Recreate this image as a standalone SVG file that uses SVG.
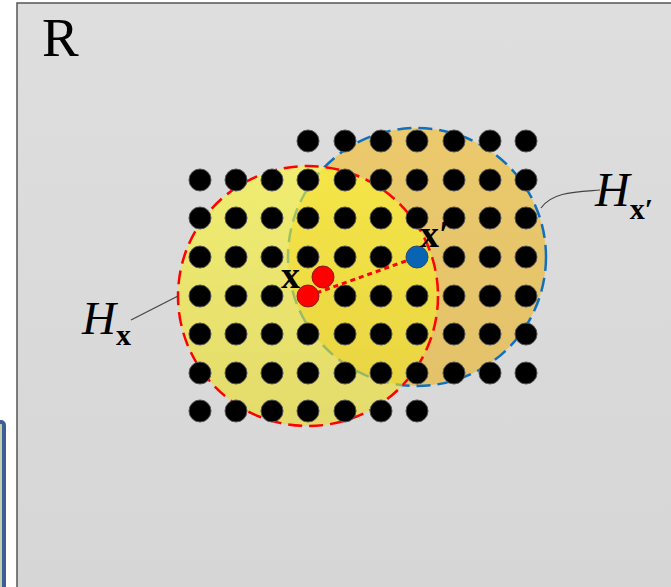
<svg xmlns="http://www.w3.org/2000/svg" width="671" height="587" viewBox="0 0 671 587">
<defs>
<style>
.dot{fill:#000;stroke:#555;stroke-width:1}
.lbl{font-family:"Liberation Serif","Times New Roman",serif;fill:#000}
.bx{font-weight:bold}
.it{font-style:italic}
.lead{fill:none;stroke:#444;stroke-width:1.2}
</style>
<linearGradient id="bg" x1="0" y1="0" x2="0" y2="1">
<stop offset="0" stop-color="#dedede"/>
<stop offset="1" stop-color="#d6d6d6"/>
</linearGradient>
<linearGradient id="yel" x1="0" y1="0" x2="0" y2="1">
<stop offset="0" stop-color="#fcf830"/>
<stop offset="1" stop-color="#eadc28"/>
</linearGradient>
<linearGradient id="org" x1="0" y1="0" x2="0" y2="1">
<stop offset="0" stop-color="#ebc96c"/>
<stop offset="1" stop-color="#e3c26a"/>
</linearGradient>
</defs>
<rect x="0" y="0" width="671" height="587" fill="#ffffff"/>
<g id="blue-bar">
<rect x="-20" y="422" width="24" height="190" rx="3" fill="#c3cfae" stroke="#3d5f96" stroke-width="4"/>
</g>
<g id="region-R">
<rect x="17" y="3" width="660" height="600" fill="url(#bg)" stroke="#555" stroke-width="1.5"/>
<text class="lbl" x="42" y="56" font-size="55">R</text>
</g>
<g id="H-x-prime">
<circle cx="417" cy="257" r="129" fill="url(#org)" stroke="#1070c0" stroke-width="2.5" stroke-dasharray="14,7"/>
</g>
<g id="H-x">
<circle cx="308" cy="296" r="130" fill="url(#yel)" fill-opacity="0.62" stroke="none"/>
<circle cx="308" cy="296" r="130" fill="none" stroke="#ff0000" stroke-width="2.5" stroke-dasharray="14,7"/>
</g>
<g id="grid">
<g id="row1"><circle class="dot" cx="308" cy="141" r="11"/><circle class="dot" cx="345" cy="141" r="11"/><circle class="dot" cx="381" cy="141" r="11"/><circle class="dot" cx="417" cy="141" r="11"/><circle class="dot" cx="454" cy="141" r="11"/><circle class="dot" cx="490" cy="141" r="11"/><circle class="dot" cx="526" cy="141" r="11"/></g>
<g id="row2"><circle class="dot" cx="200" cy="180" r="11"/><circle class="dot" cx="236" cy="180" r="11"/><circle class="dot" cx="272" cy="180" r="11"/><circle class="dot" cx="308" cy="180" r="11"/><circle class="dot" cx="345" cy="180" r="11"/><circle class="dot" cx="381" cy="180" r="11"/><circle class="dot" cx="417" cy="180" r="11"/><circle class="dot" cx="454" cy="180" r="11"/><circle class="dot" cx="490" cy="180" r="11"/><circle class="dot" cx="526" cy="180" r="11"/></g>
<g id="row3"><circle class="dot" cx="200" cy="218" r="11"/><circle class="dot" cx="236" cy="218" r="11"/><circle class="dot" cx="272" cy="218" r="11"/><circle class="dot" cx="308" cy="218" r="11"/><circle class="dot" cx="345" cy="218" r="11"/><circle class="dot" cx="381" cy="218" r="11"/><circle class="dot" cx="417" cy="218" r="11"/><circle class="dot" cx="454" cy="218" r="11"/><circle class="dot" cx="490" cy="218" r="11"/><circle class="dot" cx="526" cy="218" r="11"/></g>
<g id="row4"><circle class="dot" cx="200" cy="257" r="11"/><circle class="dot" cx="236" cy="257" r="11"/><circle class="dot" cx="272" cy="257" r="11"/><circle class="dot" cx="308" cy="257" r="11"/><circle class="dot" cx="345" cy="257" r="11"/><circle class="dot" cx="381" cy="257" r="11"/><circle class="dot" cx="454" cy="257" r="11"/><circle class="dot" cx="490" cy="257" r="11"/><circle class="dot" cx="526" cy="257" r="11"/></g>
<g id="row5"><circle class="dot" cx="200" cy="296" r="11"/><circle class="dot" cx="236" cy="296" r="11"/><circle class="dot" cx="272" cy="296" r="11"/><circle class="dot" cx="345" cy="296" r="11"/><circle class="dot" cx="381" cy="296" r="11"/><circle class="dot" cx="417" cy="296" r="11"/><circle class="dot" cx="454" cy="296" r="11"/><circle class="dot" cx="490" cy="296" r="11"/><circle class="dot" cx="526" cy="296" r="11"/></g>
<g id="row6"><circle class="dot" cx="200" cy="334" r="11"/><circle class="dot" cx="236" cy="334" r="11"/><circle class="dot" cx="272" cy="334" r="11"/><circle class="dot" cx="308" cy="334" r="11"/><circle class="dot" cx="345" cy="334" r="11"/><circle class="dot" cx="381" cy="334" r="11"/><circle class="dot" cx="417" cy="334" r="11"/><circle class="dot" cx="454" cy="334" r="11"/><circle class="dot" cx="490" cy="334" r="11"/><circle class="dot" cx="526" cy="334" r="11"/></g>
<g id="row7"><circle class="dot" cx="200" cy="373" r="11"/><circle class="dot" cx="236" cy="373" r="11"/><circle class="dot" cx="272" cy="373" r="11"/><circle class="dot" cx="308" cy="373" r="11"/><circle class="dot" cx="345" cy="373" r="11"/><circle class="dot" cx="381" cy="373" r="11"/><circle class="dot" cx="417" cy="373" r="11"/><circle class="dot" cx="454" cy="373" r="11"/><circle class="dot" cx="490" cy="373" r="11"/><circle class="dot" cx="526" cy="373" r="11"/></g>
<g id="row8"><circle class="dot" cx="200" cy="411" r="11"/><circle class="dot" cx="236" cy="411" r="11"/><circle class="dot" cx="272" cy="411" r="11"/><circle class="dot" cx="308" cy="411" r="11"/><circle class="dot" cx="345" cy="411" r="11"/><circle class="dot" cx="381" cy="411" r="11"/><circle class="dot" cx="417" cy="411" r="11"/></g>
</g>
<g id="connectors">
<line x1="308" y1="296" x2="417" y2="257" stroke="#ff0000" stroke-width="3" stroke-dasharray="5,4"/>
<line class="lead" x1="131" y1="320" x2="178" y2="296"/>
<path class="lead" d="M541,208 C552,192 575,192 600,190"/>
</g>
<g id="point-x">
<circle cx="323" cy="277" r="11" fill="#ff0000" stroke="#8a2020" stroke-width="1"/>
<circle cx="308" cy="296" r="11" fill="#ff0000" stroke="#8a2020" stroke-width="1"/>
<text class="lbl bx" x="281" y="288" font-size="38">x</text>
</g>
<g id="point-x-prime">
<circle cx="417" cy="257" r="11" fill="#0a64b4" stroke="#304a70" stroke-width="1"/>
<text class="lbl bx" x="420" y="247" font-size="38">x′</text>
</g>
<g id="label-Hx">
<text class="lbl" x="82" y="334"><tspan class="it" font-size="47">H</tspan><tspan class="bx" font-size="30" dy="11">x</tspan></text>
</g>
<g id="label-Hxp">
<text class="lbl" x="595" y="206"><tspan class="it" font-size="48">H</tspan><tspan class="bx" font-size="30" dy="13">x′</tspan></text>
</g>
</svg>
